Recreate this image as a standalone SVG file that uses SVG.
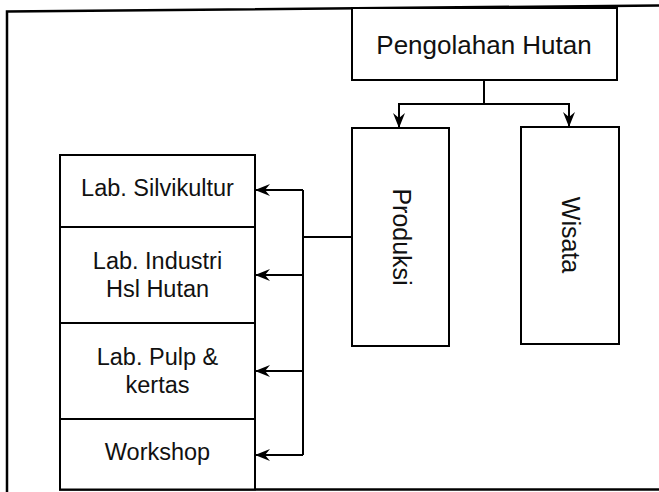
<svg xmlns="http://www.w3.org/2000/svg" width="659" height="492" viewBox="0 0 659 492">
<style>
.box{fill:#fff;stroke:#000;stroke-width:2}
.frame{fill:none;stroke:#000;stroke-width:2.5}
.con{fill:none;stroke:#000;stroke-width:2}
text{font-family:"Liberation Sans",Arial,sans-serif;fill:#111;text-anchor:middle}
.lab{font-size:23.5px}
.title{font-size:26px}
.rot{font-size:25px}
</style>
<defs>
<marker id="ah" viewBox="0 0 15 12" markerWidth="15" markerHeight="12" refX="15" refY="6" orient="auto" markerUnits="userSpaceOnUse">
<path d="M0,0 L15,6 L0,12 L5,6 Z" fill="#000"/>
</marker>
</defs>
<rect width="659" height="492" fill="#fff"/>
<g id="frame">
<path class="frame" d="M7,492 L7,11.5 L659,5.5"/>
<path class="frame" d="M59,489.5 H659"/>
</g>
<g id="pengolahan">
<rect class="box" x="352" y="8" width="265" height="72"/>
<text class="title" x="484" y="54">Pengolahan Hutan</text>
</g>
<g id="produksi">
<rect class="box" x="352" y="128" width="97" height="218"/>
<text class="rot" transform="translate(402,237) rotate(90)" y="9">Produksi</text>
</g>
<g id="wisata">
<rect class="box" x="521" y="127" width="98" height="217"/>
<text class="rot" transform="translate(571,235) rotate(90)" y="9">Wisata</text>
</g>
<g id="silvikultur">
<rect class="box" x="60" y="155" width="195" height="72"/>
<text class="lab" x="157.5" y="196">Lab. Silvikultur</text>
</g>
<g id="industri">
<rect class="box" x="60" y="227" width="195" height="96"/>
<text class="lab" x="157.5" y="269">Lab. Industri</text>
<text class="lab" x="157.5" y="297">Hsl Hutan</text>
</g>
<g id="pulp">
<rect class="box" x="60" y="323" width="195" height="96"/>
<text class="lab" x="157.5" y="365">Lab. Pulp &amp;</text>
<text class="lab" x="157.5" y="393">kertas</text>
</g>
<g id="workshop">
<rect class="box" x="60" y="419" width="195" height="70.5"/>
<text class="lab" x="157.5" y="460">Workshop</text>
</g>
<g id="connectors">
<path class="con" d="M484,80 V104 H399 V128" marker-end="url(#ah)"/>
<path class="con" d="M484,104 H569 V127" marker-end="url(#ah)"/>
<path class="con" d="M352,237 H303"/>
<path class="con" d="M303,190 V455"/>
<path class="con" d="M303,190 H255" marker-end="url(#ah)"/>
<path class="con" d="M303,275 H255" marker-end="url(#ah)"/>
<path class="con" d="M303,371 H255" marker-end="url(#ah)"/>
<path class="con" d="M303,455 H255" marker-end="url(#ah)"/>
</g>
</svg>
